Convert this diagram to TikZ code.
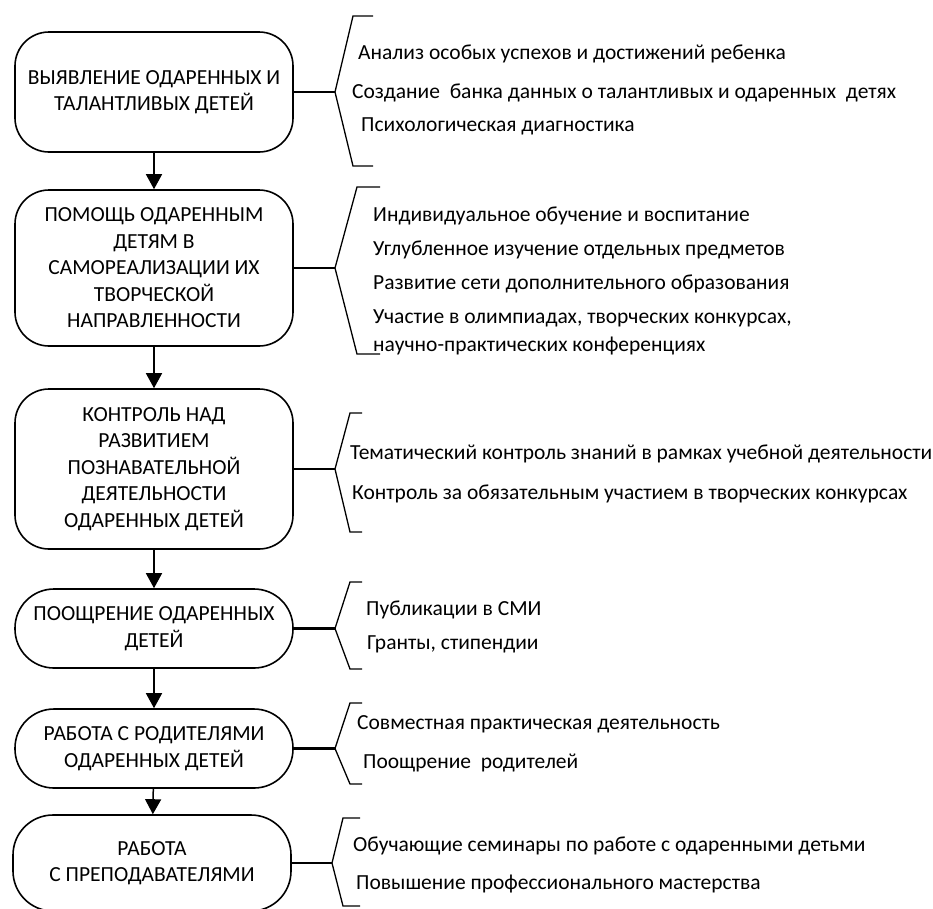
\documentclass[tikz,border=0pt]{standalone}
\usepackage{fontspec}
\setmainfont{Carlito}
\usetikzlibrary{arrows.meta}

\tikzset{
  stage/.style={draw=black, line width=1.6pt, rounded corners=#1, minimum width=278pt,
    align=center, inner sep=2pt, font=\fontsize{21.5}{26.5}\selectfont},
  stage/.default=34pt,
  flow/.style={line width=1.5pt, -{Triangle[width=16pt,length=15pt]}},
  link/.style={line width=2.6pt},
  bracket/.style={line width=1.3pt},
  item/.style={anchor=mid west, inner sep=0pt, font=\fontsize{21.5}{26}\selectfont},
}

\begin{document}
\begin{tikzpicture}[x=1pt, y=-1pt]
  \useasboundingbox (0,0) rectangle (933,908);

  % stages
  \node[stage, minimum height=120pt] (s1) at (154,92)
    {ВЫЯВЛЕНИЕ ОДАРЕННЫХ И\\ТАЛАНТЛИВЫХ ДЕТЕЙ};
  \node[stage, minimum height=156pt] (s2) at (154,268)
    {ПОМОЩЬ ОДАРЕННЫМ\\ДЕТЯМ В\\САМОРЕАЛИЗАЦИИ ИХ\\ТВОРЧЕСКОЙ\\НАПРАВЛЕННОСТИ};
  \node[stage, minimum height=160pt] (s3) at (154,469)
    {КОНТРОЛЬ НАД\\РАЗВИТИЕМ\\ПОЗНАВАТЕЛЬНОЙ\\ДЕЯТЕЛЬНОСТИ\\ОДАРЕННЫХ ДЕТЕЙ};
  \node[stage=39pt, minimum height=79pt] (s4) at (154,628.5)
    {ПООЩРЕНИЕ ОДАРЕННЫХ\\ДЕТЕЙ};
  \node[stage=39pt, minimum height=79pt] (s5) at (154,748.5)
    {РАБОТА С РОДИТЕЛЯМИ\\ОДАРЕННЫХ ДЕТЕЙ};
  \node[stage=40pt, minimum height=96pt] (s6) at (152,863)
    {РАБОТА\\С ПРЕПОДАВАТЕЛЯМИ};

  % flow between stages
  \draw[flow] (s1) -- (s2);
  \draw[flow] (s2) -- (s3);
  \draw[flow] (s3) -- (s4);
  \draw[flow] (s4) -- (s5);
  \draw[flow] (s5) -- (s6);

  % bracket tips
  \coordinate (b1) at (335,92);
  \coordinate (b2) at (335,268);
  \coordinate (b3) at (335,469);
  \coordinate (b4) at (335,628.5);
  \coordinate (b5) at (335,748.5);
  \coordinate (b6) at (332,863);

  % links from stages to brackets
  \draw[link] (s1.east) -- (b1);
  \draw[link] (s2.east) -- (b2);
  \draw[link] (s3.east) -- (b3);
  \draw[link] (s4.east) -- (b4);
  \draw[link] (s5.east) -- (b5);
  \draw[link] (s6.east) -- (b6);

  % brackets
  \draw[bracket] (373,16) -- (353,16) -- (b1) -- (353,166) -- (373,166);
  \draw[bracket] (380,187) -- (357,187) -- (b2) -- (357,354) -- (380,354);
  \draw[bracket] (362,413) -- (350,413) -- (b3) -- (350,532) -- (362,532);
  \draw[bracket] (362,582) -- (350,582) -- (b4) -- (350,669) -- (362,669);
  \draw[bracket] (362,703) -- (350,703) -- (b5) -- (350,784) -- (362,784);
  \draw[bracket] (360,818) -- (343,818) -- (b6) -- (343,906) -- (360,906);

  % items
  \node[item] (i11) at (358,57) {Анализ особых успехов и достижений ребенка};
  \node[item] (i12) at (352,96) {Создание\ \ банка данных о талантливых и одаренных\ \ детях};
  \node[item] (i13) at (361,129) {Психологическая диагностика};

  \node[item] (i21) at (373,219) {Индивидуальное обучение и воспитание};
  \node[item] (i22) at (373,253) {Углубленное изучение отдельных предметов};
  \node[item] (i23) at (373,287) {Развитие сети дополнительного образования};
  \node[item] (i24) at (373,321) {Участие в олимпиадах, творческих конкурсах,};
  \node[item] (i25) at (373,349) {научно-практических конференциях};

  \node[item] (i31) at (350,457) {Тематический контроль знаний в рамках учебной деятельности};
  \node[item] (i32) at (352,497) {Контроль за обязательным участием в творческих конкурсах};

  \node[item] (i41) at (366,613) {Публикации в СМИ};
  \node[item] (i42) at (367,647) {Гранты, стипендии};

  \node[item] (i51) at (357,727) {Совместная практическая деятельность};
  \node[item] (i52) at (363,766) {Поощрение\ \ родителей};

  \node[item] (i61) at (353,849) {Обучающие семинары по работе с одаренными детьми};
  \node[item] (i62) at (356,887) {Повышение профессионального мастерства};
\end{tikzpicture}
\end{document}
